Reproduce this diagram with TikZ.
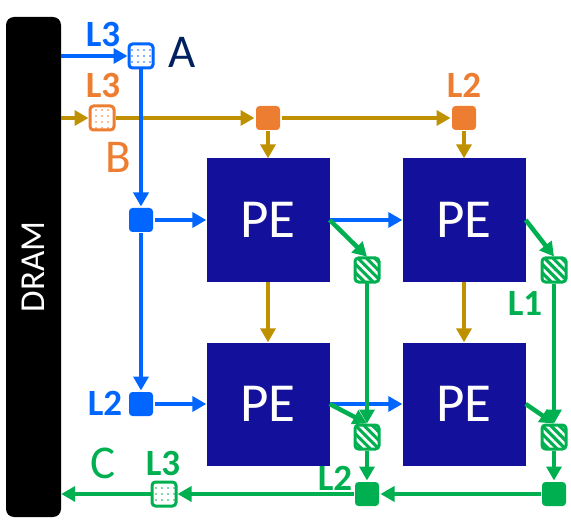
\documentclass[tikz,border=0pt]{standalone}
\usepackage{fontspec}
\setmainfont{Carlito}
\usetikzlibrary{arrows.meta,patterns.meta}
\definecolor{wblue}{RGB}{0,102,255}
\definecolor{worange}{RGB}{237,125,49}
\definecolor{wgold}{RGB}{191,144,0}
\definecolor{wgreen}{RGB}{0,176,80}
\definecolor{penavy}{RGB}{19,16,156}
\definecolor{lblnavy}{RGB}{0,32,96}

\begin{document}
\begin{tikzpicture}
  [x=1pt,y=-1pt,
   pe/.style={fill=penavy,minimum size=123pt,inner sep=0pt,text=white,font=\fontsize{55}{55}\selectfont},
   buf/.style={rounded corners=3.5pt,minimum size=24pt,inner sep=0pt,line width=3pt},
   dotbuf/.style={buf,draw=#1,preaction={fill=white},pattern={Dots[distance=6pt,radius=0.8pt]},pattern color=#1},
   hatchbuf/.style={buf,draw=wgreen,preaction={fill=wgreen},pattern={Lines[angle=-45,distance=6pt,line width=2.6pt]},pattern color=white},
   solidbuf/.style={buf,fill=#1,minimum size=24pt},
   lbl/.style={font=\fontsize{37}{37}\selectfont\bfseries,text=#1},
   big/.style={font=\fontsize{47}{47}\selectfont,text=#1},
   wire/.style={line width=4.5pt,draw=#1,-{Triangle[length=14pt,width=15pt]}}]
  \useasboundingbox (0,0) rectangle (571,524);

  % memory and PE array
  \node (dram) at (33.5,267) [fill=black,rounded corners=8pt,minimum width=55pt,minimum height=500pt,inner sep=0pt,
    text=white,font=\fontsize{35}{35}\selectfont] {\rotatebox{90}{DRAM}};
  \node (pe1) at (268,220) [pe] {PE};
  \node (pe2) at (464,220) [pe] {PE};
  \node (pe3) at (268,404) [pe] {PE};
  \node (pe4) at (464,404) [pe] {PE};

  % buffers
  \node (a3)  at (141,56)  [dotbuf=wblue] {};
  \node (a2t) at (141,220) [solidbuf=wblue] {};
  \node (a2)  at (141,404) [solidbuf=wblue] {};
  \node (b3)  at (102,118) [dotbuf=worange] {};
  \node (b2a) at (268,118) [solidbuf=worange] {};
  \node (b2b) at (464,118) [solidbuf=worange] {};
  \node (h1)  at (367,270) [hatchbuf] {};
  \node (h2)  at (554,270) [hatchbuf] {};
  \node (h3)  at (367,437) [hatchbuf] {};
  \node (h4)  at (554,437) [hatchbuf] {};
  \node (c2a) at (367,494) [solidbuf=wgreen] {};
  \node (c2b) at (554,494) [solidbuf=wgreen] {};
  \node (c3)  at (164,494) [dotbuf=wgreen] {};

  \coordinate (da) at (dram.east |- a3);
  \coordinate (db) at (dram.east |- b3);
  \coordinate (dc) at (dram.east |- c3);

  % labels
  \node (la3) at (103,34)  [lbl=wblue] {L3};
  \node (la2) at (105,403) [lbl=wblue] {L2};
  \node (lb3) at (103,85)  [lbl=worange] {L3};
  \node (lb2) at (464,85)  [lbl=worange] {L2};
  \node (lc1) at (525,303) [lbl=wgreen] {L1};
  \node (lc2) at (335,478) [lbl=wgreen] {L2};
  \node (lc3) at (163,463) [lbl=wgreen] {L3};
  \node (ta)  at (182,52)  [big=lblnavy] {A};
  \node (tb)  at (118,157) [big=worange] {B};
  \node (tc)  at (103,463) [big=wgreen] {C};

\foreach \from/\to in
{db/b3, b3/b2a, b2a/b2b, b2a/pe1, b2b/pe2, pe1/pe3, pe2/pe4}
    \draw[wire=wgold] (\from) -- (\to);
\foreach \from/\to in
{da/a3, a3/a2t, a2t/a2, a2t/pe1, a2/pe3, pe1/pe2, pe3/pe4}
    \draw[wire=wblue] (\from) -- (\to);
\foreach \from/\to in
{pe1.east/h1.north, pe2.east/h2.north, pe3.east/h3.north, pe4.east/h4.north,
 h1/h3, h2/h4, h3/c2a, h4/c2b, c2b/c2a, c2a/c3, c3/dc}
    \draw[wire=wgreen] (\from) -- (\to);
\end{tikzpicture}
\end{document}
